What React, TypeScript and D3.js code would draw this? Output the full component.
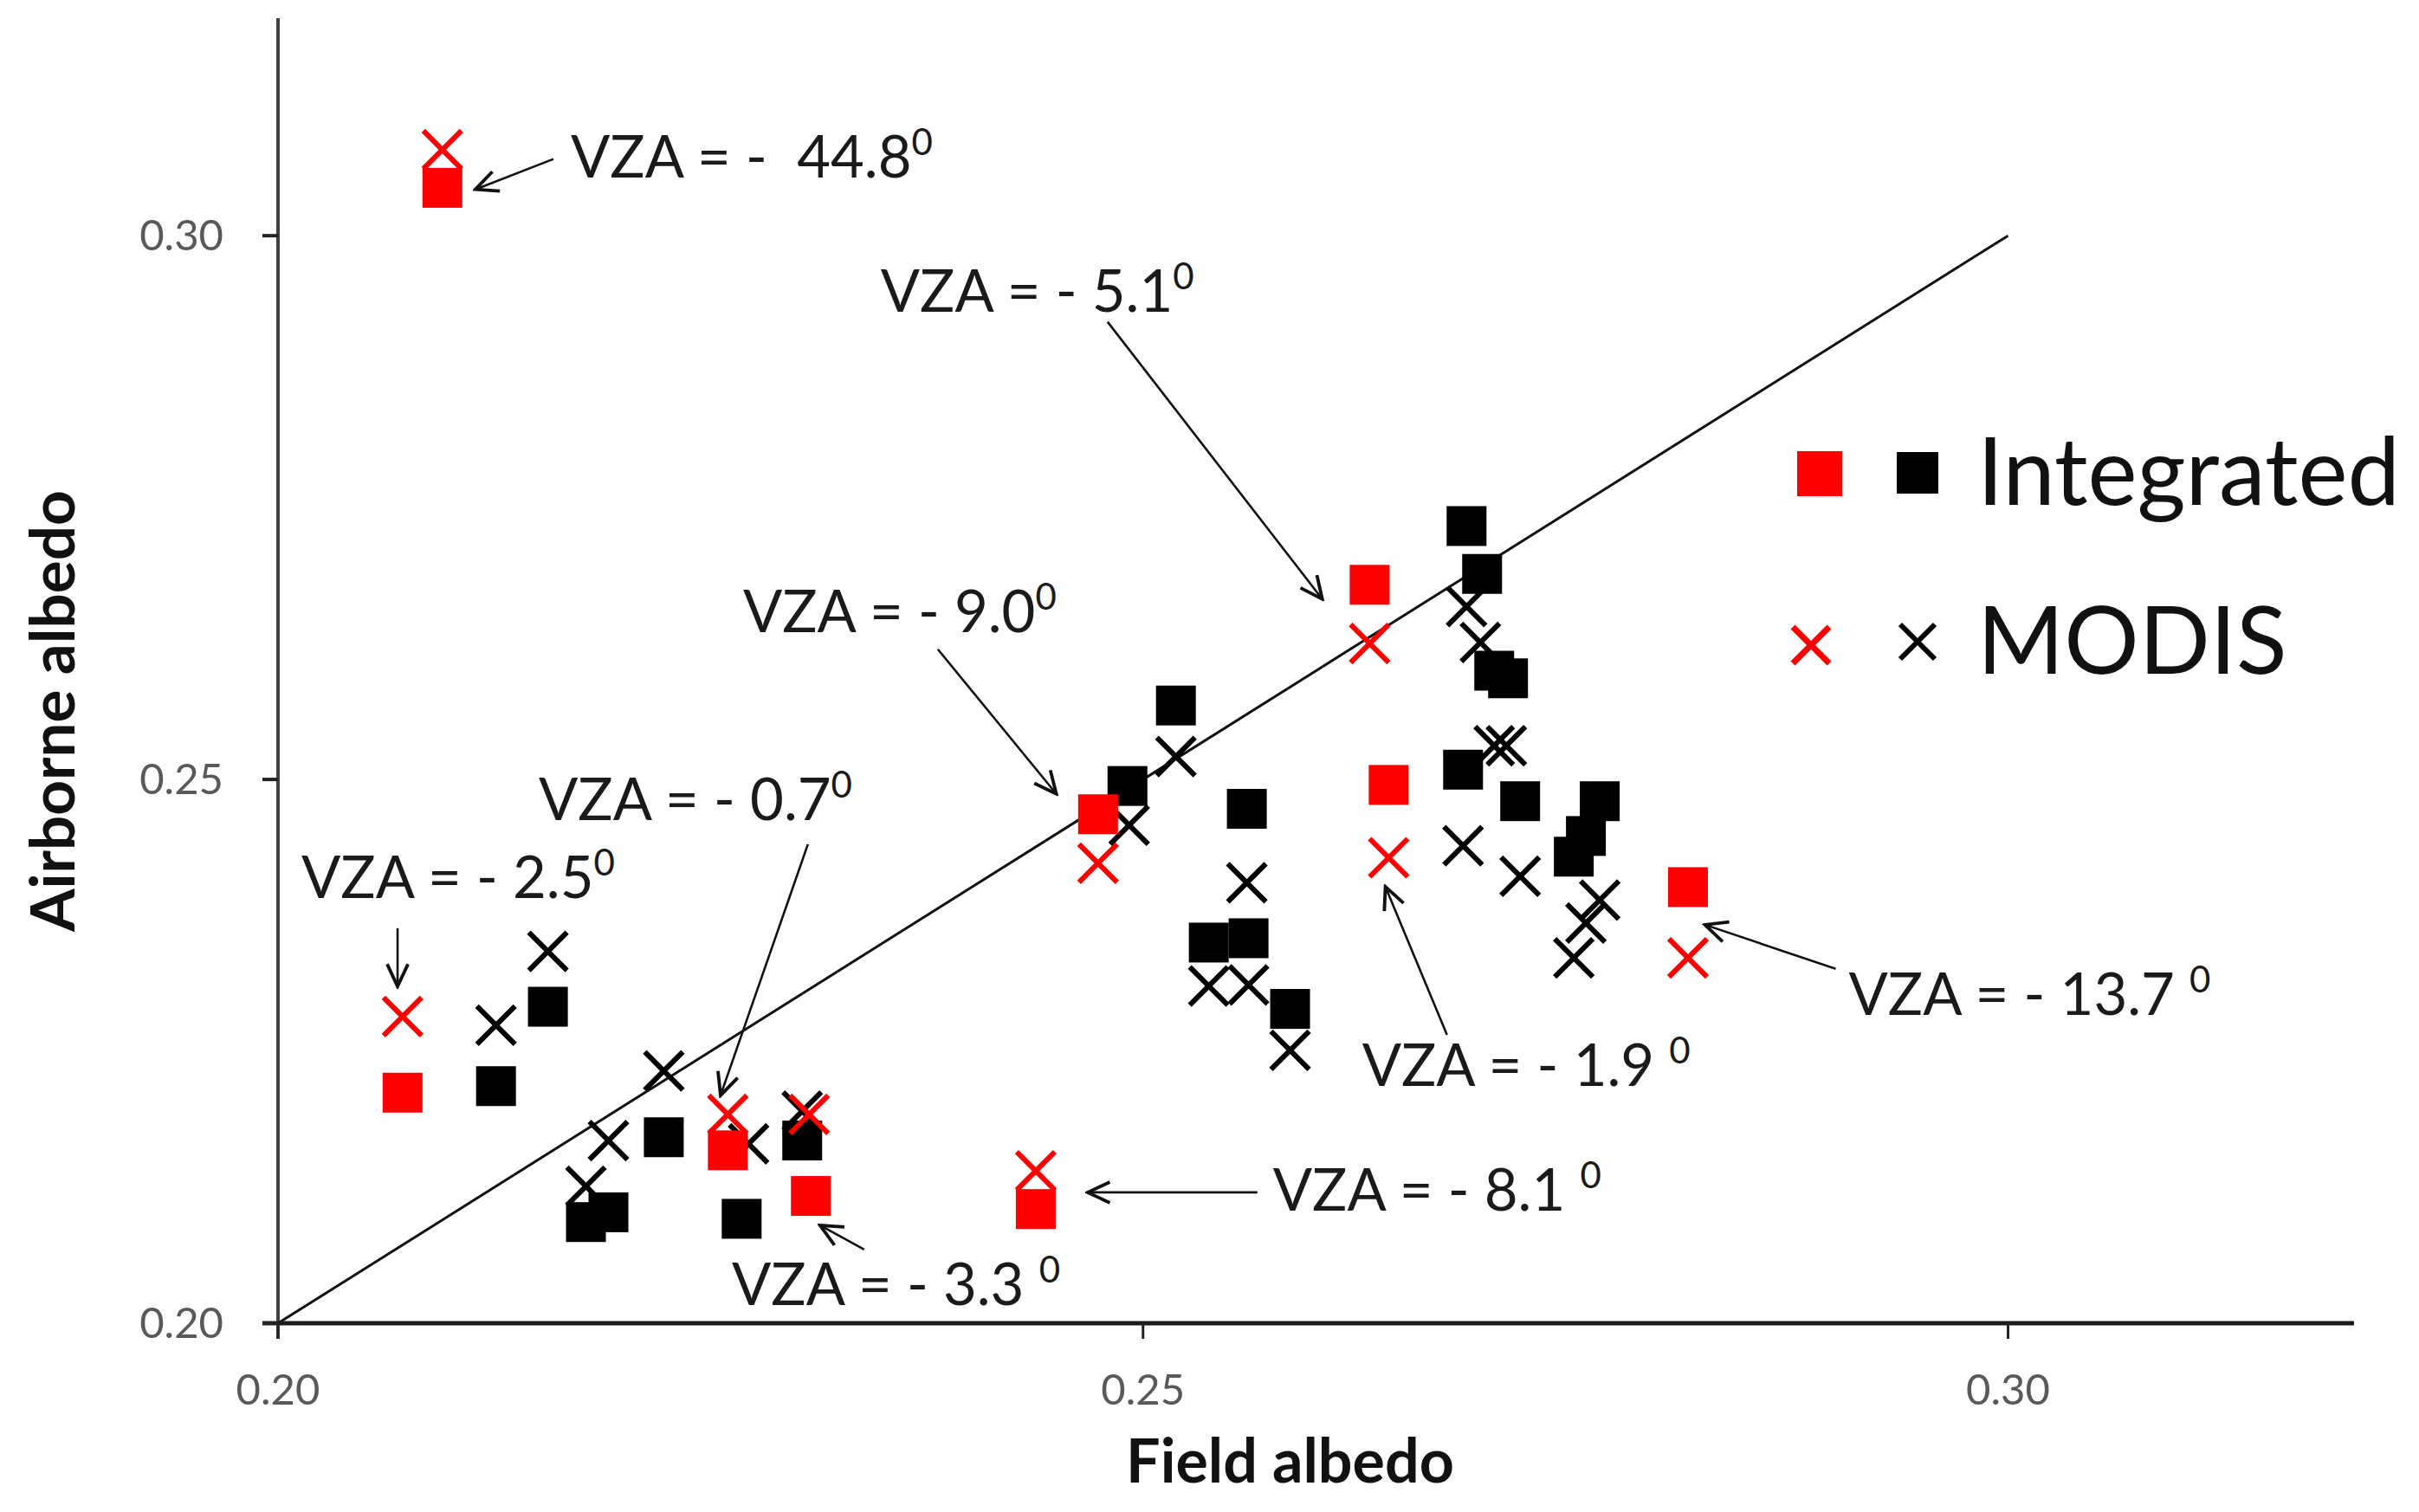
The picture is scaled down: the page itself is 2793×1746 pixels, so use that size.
import React from 'react';
import * as d3 from 'd3';

// ---- data (albedo values) ----
const xTicks = [0.2, 0.25, 0.3];
const yTicks = [0.2, 0.25, 0.3];
const xDomain = [0.2, 0.32];
const yDomain = [0.2, 0.32];

const redIntX = [0.2095, 0.2072, 0.226, 0.2308, 0.2438, 0.2474, 0.2631, 0.2642, 0.2815];
const redIntY = [0.3044, 0.2212, 0.2159, 0.2117, 0.2105, 0.2468, 0.2679, 0.2495, 0.2401];
const redModX = [0.2095, 0.2072, 0.226, 0.2307, 0.2438, 0.2474, 0.2631, 0.2642, 0.2815];
const redModY = [0.3079, 0.2282, 0.2192, 0.2192, 0.214, 0.2423, 0.2625, 0.2428, 0.2336];

const blackIntX = [0.2126, 0.2156, 0.2178, 0.2191, 0.2223, 0.2268, 0.2303, 0.2491, 0.2519, 0.256, 0.2538, 0.2561, 0.2585, 0.2687, 0.2696, 0.2703, 0.2711, 0.2685, 0.2718, 0.2764, 0.2756, 0.2749];
const blackIntY = [0.2218, 0.2291, 0.2093, 0.2102, 0.2171, 0.2096, 0.2168, 0.2494, 0.2568, 0.2473, 0.235, 0.2354, 0.2289, 0.2733, 0.2689, 0.26, 0.2593, 0.2509, 0.248, 0.248, 0.2448, 0.2429];
const blackModX = [0.2126, 0.2156, 0.2178, 0.2191, 0.2223, 0.2272, 0.2303, 0.2492, 0.2519, 0.256, 0.2538, 0.2561, 0.2585, 0.2687, 0.2695, 0.2703, 0.271, 0.2685, 0.2718, 0.2764, 0.2756, 0.2749];
const blackModY = [0.2274, 0.2342, 0.2126, 0.2168, 0.2232, 0.2165, 0.2195, 0.2458, 0.2521, 0.2405, 0.231, 0.2311, 0.2251, 0.2659, 0.2626, 0.2531, 0.2531, 0.2439, 0.2411, 0.2389, 0.2368, 0.2336];

// annotations: label text, text anchor, arrow tail & head (all in albedo units)
const annLabels = ['VZA = -  44.8', 'VZA = - 5.1', 'VZA = - 9.0', 'VZA = - 0.7', 'VZA = - 2.5', 'VZA = - 3.3 ', 'VZA = - 8.1 ', 'VZA = - 1.9 ', 'VZA = - 13.7 '];
const annTextX = [0.21692, 0.23483, 0.22688, 0.21507, 0.20135, 0.22623, 0.25751, 0.26266, 0.29079];
const annTextY = [0.30538, 0.29303, 0.26356, 0.24628, 0.23911, 0.20167, 0.21035, 0.22182, 0.22836];
const annTailX = [0.21592, 0.24795, 0.23814, 0.23063, 0.20691, 0.23388, 0.25661, 0.26757, 0.29004];
const annTailY = [0.30705, 0.29208, 0.26197, 0.24405, 0.23632, 0.20677, 0.21203, 0.22652, 0.23258];
const annHeadX = [0.21141, 0.26036, 0.24499, 0.22558, 0.20691, 0.23133, 0.2468, 0.26401, 0.28248];
const annHeadY = [0.30426, 0.26659, 0.24867, 0.22095, 0.23098, 0.209, 0.21203, 0.24014, 0.23664];

const xTitle = 'Field albedo';
const yTitle = 'Airborne albedo';
const legendLabels = ['Integrated', 'MODIS'];

const W = 2793;
const H = 1746;
const RED = '#ff0000';
const FONT = 'Lato, "Open Sans", sans-serif';

const x = d3.scaleLinear().domain(xDomain).range([321, 2718]);
const y = d3.scaleLinear().domain(yDomain).range([1528, 21]);

const SQ = 46;
const XR = 22;

function Cross({ cx, cy, r, color, w }: { cx: number; cy: number; r: number; color: string; w: number }) {
  return (
    <path
      d={`M${cx - r},${cy - r}L${cx + r},${cy + r}M${cx - r},${cy + r}L${cx + r},${cy - r}`}
      stroke={color}
      strokeWidth={w}
      fill="none"
    />
  );
}

export default function App() {
  const zip = (a: number[], b: number[]) => a.map((v, i) => [v, b[i]]);
  return (
    <svg width={W} height={H} style={{ position: 'absolute', left: 0, top: 0, background: '#fff' }} xmlns="http://www.w3.org/2000/svg">
      <defs>
        <marker id="arr" viewBox="0 0 20 20" refX="18" refY="10" markerWidth="32" markerHeight="32" markerUnits="userSpaceOnUse" orient="auto">
          <path d="M2,2.5 L18,10 L2,17.5" fill="none" stroke="#111" strokeWidth="2.4" />
        </marker>
      </defs>
      <rect width={W} height={H} fill="#fff" />

      {/* 1:1 line */}
      <line x1={x(0.2)} y1={y(0.2)} x2={x(0.3)} y2={y(0.3)} stroke="#111" strokeWidth={3} />

      {/* axes */}
      <line x1={x(0.2)} y1={y(yDomain[1])} x2={x(0.2)} y2={y(0.2) + 18} stroke="#404040" strokeWidth={4} />
      <line x1={x(0.2) - 18} y1={y(0.2)} x2={x(xDomain[1])} y2={y(0.2)} stroke="#1a1a1a" strokeWidth={5} />
      {yTicks.map((t) => (
        <g key={'yt' + t}>
          <line x1={x(0.2) - 18} x2={x(0.2)} y1={y(t)} y2={y(t)} stroke="#222" strokeWidth={4} />
          <text x={258} y={y(t) + 17} textAnchor="end" fontSize={49} fill="#595959" fontFamily={FONT}>
            {d3.format('.2f')(t)}
          </text>
        </g>
      ))}
      {xTicks.map((t) => (
        <g key={'xt' + t}>
          <line x1={x(t)} x2={x(t)} y1={y(0.2)} y2={y(0.2) + 18} stroke="#222" strokeWidth={3} />
          <text x={x(t)} y={1622} textAnchor="middle" fontSize={49} fill="#595959" fontFamily={FONT}>
            {d3.format('.2f')(t)}
          </text>
        </g>
      ))}

      {/* axis titles */}
      <text x={(x(0.2) + x(0.32)) / 2 - 30} y={1712} textAnchor="middle" fontSize={70} fontWeight="bold" fill="#111" fontFamily={FONT}>
        {xTitle}
      </text>
      <text transform="translate(86,821) rotate(-90)" textAnchor="middle" fontSize={71} fontWeight="bold" fill="#111" fontFamily={FONT}>
        {yTitle}
      </text>

      {/* data */}
      {zip(blackIntX, blackIntY).map(([a, b], i) => (
        <rect key={'bi' + i} x={x(a) - SQ / 2} y={y(b) - SQ / 2} width={SQ} height={SQ} fill="#000" />
      ))}
      {zip(blackModX, blackModY).map(([a, b], i) => (
        <Cross key={'bm' + i} cx={x(a)} cy={y(b)} r={XR} color="#000" w={6} />
      ))}
      {zip(redIntX, redIntY).map(([a, b], i) => (
        <rect key={'ri' + i} x={x(a) - SQ / 2} y={y(b) - SQ / 2} width={SQ} height={SQ} fill={RED} />
      ))}
      {zip(redModX, redModY).map(([a, b], i) => (
        <Cross key={'rm' + i} cx={x(a)} cy={y(b)} r={XR} color={RED} w={6} />
      ))}

      {/* annotations */}
      {annLabels.map((lab, i) => (
        <g key={'an' + i}>
          <line
            x1={x(annTailX[i])}
            y1={y(annTailY[i])}
            x2={x(annHeadX[i])}
            y2={y(annHeadY[i])}
            stroke="#111"
            strokeWidth={2.6}
            markerEnd="url(#arr)"
          />
          <text x={x(annTextX[i])} y={y(annTextY[i])} fontSize={67} fill="#1a1a1a" fontFamily={FONT} style={{ whiteSpace: 'pre' }}>
            {lab}
            <tspan dy={-26} fontSize={42}>0</tspan>
          </text>
        </g>
      ))}

      {/* legend */}
      <rect x={2101 - 26} y={547 - 26} width={52} height={52} fill={RED} />
      <rect x={2214 - 24} y={546 - 24} width={48} height={48} fill="#000" />
      <Cross cx={2091} cy={745} r={21} color={RED} w={7} />
      <Cross cx={2214} cy={741} r={20} color="#000" w={6} />
      <text x={2283} y={583} fontSize={108} fill="#111" fontFamily={FONT}>
        {legendLabels[0]}
      </text>
      <text x={2283} y={778} fontSize={108} fill="#111" fontFamily={FONT}>
        {legendLabels[1]}
      </text>
    </svg>
  );
}
